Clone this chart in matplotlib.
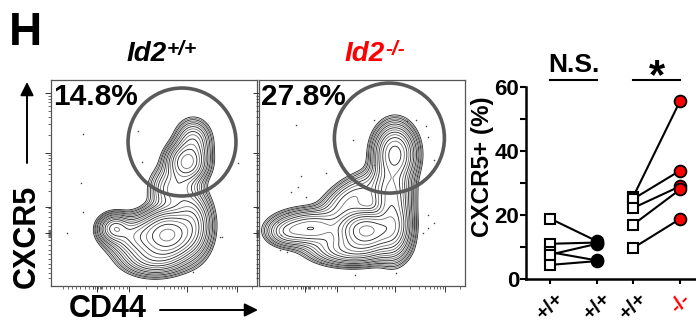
import numpy as np
import matplotlib.pyplot as plt
from matplotlib.patches import Circle

plt.rcParams['font.family'] = ['Liberation Sans', 'DejaVu Sans']
plt.rcParams['font.weight'] = 'bold'

# ---- paired dot plot: % CXCR5+ per mouse ----
ns_wt = [18.9, 11.0, 8.4, 7.6, 4.4]
ns_wt2 = [11.8, 11.4, 5.8, 11.0, 5.6]
ko_wt = [25.7, 25.0, 22.2, 17.0, 9.7]
ko_ko = [55.7, 33.9, 29.0, 28.0, 18.8]
group_x = [1.0, 2.0, 2.77, 3.77]
group_labels = ['+/+', '+/+', '+/+', '-/-']
label_colors = ['black', 'black', 'black', 'red']

# ---- flow panels ----
genotypes = ['+/+', '-/-']
title_colors = ['black', 'red']
percents = ['14.8%', '27.8%']
gate_centers = [(0.636, 0.699), (0.633, 0.718)]
gate_radii = [0.262, 0.267]

# populations: x, y, sx, sy, angle, weight (axes fractions)
wt_pops = [
    (0.57, 0.25, 0.065, 0.06, 0, 1.0),
    (0.31, 0.28, 0.04, 0.035, 0, 0.3),
    (0.44, 0.24, 0.08, 0.05, 0, 0.35),
    (0.66, 0.60, 0.05, 0.05, 0, 0.4),
    (0.69, 0.70, 0.045, 0.055, 0, 0.15),
    (0.60, 0.47, 0.06, 0.06, 0, 0.15),
    (0.68, 0.30, 0.05, 0.08, 0, 0.3),
    (0.50, 0.14, 0.08, 0.045, 0, 0.22),
]
ko_pops = [
    (0.52, 0.27, 0.07, 0.05, 0, 1.0),
    (0.25, 0.28, 0.09, 0.045, 0, 0.25),
    (0.13, 0.26, 0.05, 0.035, 0, 0.08),
    (0.65, 0.30, 0.045, 0.08, 0, 0.45),
    (0.66, 0.64, 0.05, 0.07, 0, 0.5),
    (0.64, 0.46, 0.05, 0.07, 0, 0.3),
    (0.45, 0.42, 0.10, 0.05, 35, 0.12),
    (0.45, 0.18, 0.10, 0.04, 0, 0.25),
]
wt_dots_x = [0.157, 0.42, 0.60, 0.144, 0.44, 0.906, 0.154, 0.82, 0.076, 0.688, 0.829]
wt_dots_y = [0.738, 0.752, 0.96, 0.50, 0.60, 0.596, 0.36, 0.24, 0.256, 0.066, 0.236]
ko_dots_x = [0.182, 0.456, 0.560, 0.718, 0.762, 0.810, 0.818, 0.206, 0.155, 0.19, 0.230,
             0.142, 0.090, 0.106, 0.560, 0.327, 0.850, 0.101, 0.134, 0.818, 0.794,
             0.464, 0.665, 0.303, 0.850, 0.818]
ko_dots_y = [0.782, 0.709, 0.806, 0.801, 0.806, 0.777, 0.725, 0.534, 0.458, 0.482, 0.434,
             0.353, 0.312, 0.248, 0.587, 0.547, 0.612, 0.175, 0.167, 0.345, 0.256,
             0.053, 0.065, 0.110, 0.304, 0.280]


def density(pops, X, Y):
    Z = np.zeros_like(X)
    for cx, cy, sx, sy, ang, w in pops:
        t = np.deg2rad(ang)
        dx, dy = X - cx, Y - cy
        u = dx * np.cos(t) + dy * np.sin(t)
        v = -dx * np.sin(t) + dy * np.cos(t)
        Z += w * np.exp(-0.5 * ((u / sx) ** 2 + (v / sy) ** 2))
    return Z


def log_minors(p0, p1):
    return [p0 + (p1 - p0) * np.log10(k) for k in range(2, 10)]


x_major = [0.225, 0.379, 0.660, 0.903]
x_minor = (list(np.linspace(0.06, 0.37, 16)) + list(np.linspace(0.205, 0.245, 6))
           + log_minors(0.379, 0.660) + log_minors(0.660, 0.903)
           + [p for p in log_minors(0.903, 1.146) if p < 1])
y_major = [0.255, 0.383, 0.646, 0.937]
y_minor = (list(np.linspace(0.04, 0.38, 16)) + list(np.linspace(0.24, 0.27, 6))
           + log_minors(0.383, 0.646) + log_minors(0.646, 0.937))

fig = plt.figure(figsize=(6.96, 3.24), dpi=100)

g = np.linspace(0, 1, 300)
X, Y = np.meshgrid(g, g)

panels = [(51, wt_pops, wt_dots_x, wt_dots_y), (259, ko_pops, ko_dots_x, ko_dots_y)]
for i, (left, pops, dx, dy) in enumerate(panels):
    ax = fig.add_axes([left / 696, 38 / 324, 206 / 696, 206 / 324])
    Z = density(pops, X, Y)
    levels = Z.max() * np.geomspace(0.012, 0.9, 18)
    ax.contour(X, Y, Z, levels=levels, colors=['#222222', '#707070'], linewidths=0.6)
    ax.scatter(dx, dy, s=1.2, color='#444444', lw=0)
    ax.add_patch(Circle(gate_centers[i], gate_radii[i], transform=ax.transAxes,
                        fill=False, ec='#5a5a5a', lw=2.6, zorder=4))
    ax.text(0.012, 0.985, percents[i], transform=ax.transAxes, ha='left', va='top',
            fontsize=21.5, zorder=5)
    ax.set_xlim(0, 1)
    ax.set_ylim(0, 1)
    ax.set_xticks(x_major)
    ax.set_xticks(x_minor, minor=True)
    ax.set_yticks(y_major)
    ax.set_yticks(y_minor, minor=True)
    ax.set_xticklabels([])
    ax.set_yticklabels([])
    ax.tick_params(which='major', length=4, width=0.7, color='#333333')
    ax.tick_params(which='minor', length=2.2, width=0.5, color='#333333')
    for s in ax.spines.values():
        s.set_color('#555555')
        s.set_linewidth(0.9)

# titles with superscript genotype
title_left = [127, 345]
for i in range(2):
    t = fig.text(title_left[i] / 696, 1 - 61 / 324, 'Id2', fontsize=20, style='italic',
                 color=title_colors[i], ha='left', va='baseline')
    plt.annotate(genotypes[i], xy=(1, 1), xycoords=t, xytext=(0, 1),
                 textcoords='offset points', ha='left', va='top', fontsize=15,
                 style='italic', color=title_colors[i])

fig.text(9 / 696, 1 - 11 / 324, 'H', fontsize=33, ha='left', va='top')

# axis captions with arrows
fig.text(108 / 696, 1 - 309 / 324, 'CD44', fontsize=22, ha='center', va='center')
plt.annotate('', xy=(258, 324 - 310), xytext=(160, 324 - 310), xycoords='figure pixels',
             arrowprops=dict(arrowstyle='-|>', lw=1.4, color='black', mutation_scale=20,
                             shrinkA=0, shrinkB=0))
fig.text(27 / 696, 1 - 236 / 324, 'CXCR5', fontsize=22, rotation=90, ha='center', va='center')
plt.annotate('', xy=(27, 324 - 82), xytext=(27, 324 - 163), xycoords='figure pixels',
             arrowprops=dict(arrowstyle='-|>', lw=1.4, color='black', mutation_scale=20,
                             shrinkA=0, shrinkB=0))

# ---- dot plot ----
ax3 = fig.add_axes([526 / 696, 45 / 324, 170 / 696, 192 / 324])
ax3.set_xlim(0.49, 4.106)
ax3.set_ylim(0, 60)
for a, b in zip(ns_wt, ns_wt2):
    ax3.plot([group_x[0], group_x[1]], [a, b], color='black', lw=1.5, zorder=2)
for a, b in zip(ko_wt, ko_ko):
    ax3.plot([group_x[2], group_x[3]], [a, b], color='black', lw=1.5, zorder=2)
ax3.plot([group_x[0]] * len(ns_wt), ns_wt, ls='none', marker='s', ms=6.5, mfc='white',
         mec='black', mew=1.5, zorder=3, clip_on=False)
ax3.plot([group_x[1]] * len(ns_wt2), ns_wt2, ls='none', marker='o', ms=8.5, mfc='black',
         mec='black', mew=1.3, zorder=3, clip_on=False)
ax3.plot([group_x[2]] * len(ko_wt), ko_wt, ls='none', marker='s', ms=6.5, mfc='white',
         mec='black', mew=1.5, zorder=3, clip_on=False)
ax3.plot([group_x[3]] * len(ko_ko), ko_ko, ls='none', marker='o', ms=8.5, mfc='#ff0000',
         mec='black', mew=1.3, zorder=3, clip_on=False)

ax3.spines['top'].set_visible(False)
ax3.spines['right'].set_visible(False)
ax3.spines['left'].set_linewidth(1.8)
ax3.spines['bottom'].set_linewidth(1.8)
ax3.set_yticks(range(0, 61, 10))
ax3.set_yticklabels(['0', '', '20', '', '40', '', '60'])
ax3.tick_params(axis='y', length=4, width=1.5, labelsize=16, pad=1)
ax3.set_xticks(group_x)
ax3.set_xticklabels(group_labels, rotation=45, ha='center', va='top', fontsize=15)
ax3.tick_params(axis='x', length=3.5, width=1.5, pad=4)
for lab, c in zip(ax3.get_xticklabels(), label_colors):
    lab.set_color(c)

fig.text(482 / 696, 1 - 167 / 324, 'CXCR5+ (%)', fontsize=17.5, rotation=90,
         ha='center', va='center')

# significance marks
ax3.plot([group_x[0], group_x[1]], [62.2, 62.2], color='black', lw=1.5, clip_on=False)
ax3.plot([group_x[2], group_x[3]], [62.2, 62.2], color='black', lw=1.5, clip_on=False)
ax3.text((group_x[0] + group_x[1]) / 2, 64.7, 'N.S.', fontsize=19, ha='center',
         va='baseline')
ax3.text((group_x[2] + group_x[3]) / 2, 59.7, '*', fontsize=30, ha='center',
         va='baseline')

fig.savefig('out.png', dpi=100)
